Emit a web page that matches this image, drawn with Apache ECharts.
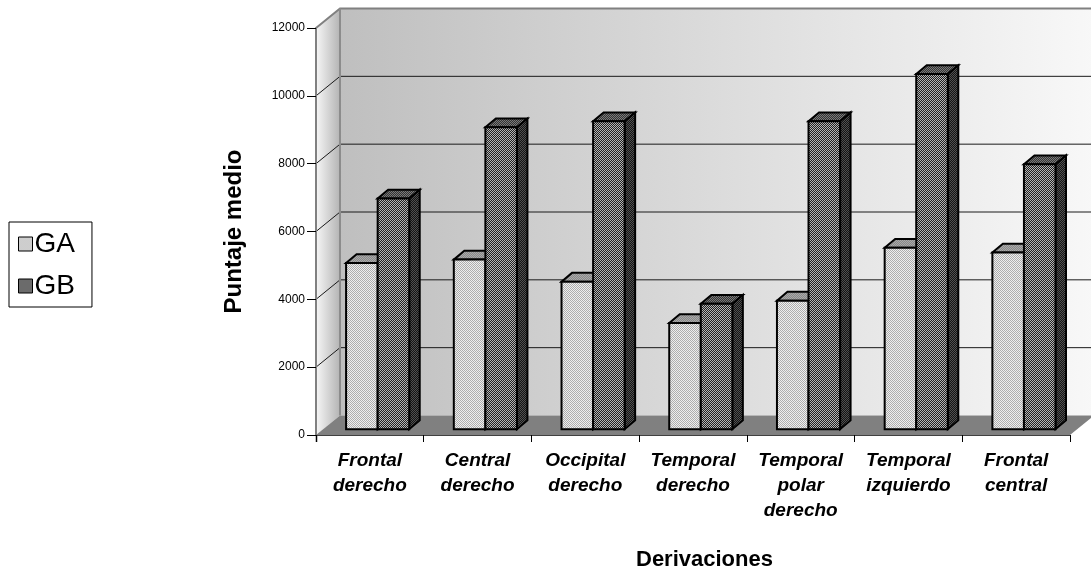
<!DOCTYPE html>
<html>
<head>
<meta charset="utf-8">
<script src="https://cdn.jsdelivr.net/npm/echarts@6/dist/echarts.min.js"></script>
<style>
  html, body { margin: 0; padding: 0; background: #ffffff; }
  #chart { width: 1091px; height: 579px; }
</style>
</head>
<body>
<div id="chart"></div>
<script>
// Mean score per EEG derivation, groups GA and GB
const categories = [
  'Frontal\nderecho',
  'Central\nderecho',
  'Occipital\nderecho',
  'Temporal\nderecho',
  'Temporal\npolar\nderecho',
  'Temporal\nizquierdo',
  'Frontal\ncentral'
];
const seriesNames = ['GA', 'GB'];
const valuesGA = [4900, 5000, 4350, 3130, 3790, 5350, 5210];
const valuesGB = [6800, 8900, 9080, 3700, 9080, 10470, 7810];
const yTicks = [0, 2000, 4000, 6000, 8000, 10000, 12000];

// 3D look: depth of the walls, plane of the bars, depth of each bar
const WALL_DEPTH = [24, -19.5];
const BAR_PLANE = [7, -5.8];
const BAR_DEPTH = [10.5, -8.8];
const BAR_RATIO = 0.293;
const PAIR_SHIFT = 0.8;

function checker(a, b, cell) {
  const c = document.createElement('canvas');
  c.width = cell * 2; c.height = cell * 2;
  const ctx = c.getContext('2d');
  ctx.fillStyle = a; ctx.fillRect(0, 0, cell * 2, cell * 2);
  ctx.fillStyle = b;
  ctx.fillRect(0, 0, cell, cell);
  ctx.fillRect(cell, cell, cell, cell);
  return { image: c, repeat: 'repeat' };
}

const fills = {
  GA: {
    front: checker('#eeeeee', '#adadad', 1),
    top: checker('#888888', '#aaaaaa', 1),
    side: checker('#6a6a6a', '#9a9a9a', 1)
  },
  GB: {
    front: checker('#222222', '#b4b4b4', 1),
    top: checker('#333333', '#7a7a7a', 1),
    side: checker('#141414', '#505050', 1)
  }
};

function barRenderer(name, slot) {
  const f = fills[name];
  return function (params, api) {
    const idx = api.value(0);
    const v = api.value(1);
    const c = api.coord([idx, v]);
    const base = api.coord([idx, 0]);
    const w = api.size([1, 0])[0] * BAR_RATIO;
    const xl = c[0] + BAR_PLANE[0] + PAIR_SHIFT + (slot - 1) * w;
    const yt = c[1] + BAR_PLANE[1];
    const yb = base[1] + BAR_PLANE[1];
    const dx = BAR_DEPTH[0], dy = BAR_DEPTH[1];
    const stroke = { stroke: '#000000', lineWidth: 2, lineJoin: 'miter' };
    return {
      type: 'group',
      children: [
        {
          type: 'polygon',
          shape: { points: [[xl, yt], [xl + w, yt], [xl + w + dx, yt + dy], [xl + dx, yt + dy]] },
          style: Object.assign({ fill: f.top }, stroke)
        },
        {
          type: 'polygon',
          shape: { points: [[xl + w, yt], [xl + w + dx, yt + dy], [xl + w + dx, yb + dy], [xl + w, yb]] },
          style: Object.assign({ fill: f.side }, stroke)
        },
        {
          type: 'rect',
          shape: { x: xl, y: yt, width: w, height: yb - yt },
          style: Object.assign({ fill: f.front }, stroke)
        }
      ]
    };
  };
}

// Back wall, side wall, floor and gridlines of the 3D frame
function frameRenderer(params, api) {
  const cs = params.coordSys;
  const x0 = cs.x, x1 = cs.x + cs.width;
  const y0 = api.coord([0, yTicks[0]])[1];
  const yTop = api.coord([0, yTicks[yTicks.length - 1]])[1];
  const dx = WALL_DEPTH[0], dy = WALL_DEPTH[1];
  const children = [];
  children.push({
    type: 'rect',
    shape: { x: x0 + dx, y: yTop + dy, width: x1 - x0, height: y0 - yTop },
    style: {
      fill: new echarts.graphic.LinearGradient(0, 0, 1, 0, [
        { offset: 0, color: '#bfbfbf' },
        { offset: 1, color: '#f8f8f8' }
      ])
    }
  });
  children.push({
    type: 'polygon',
    shape: { points: [[x0, y0], [x0, yTop], [x0 + dx, yTop + dy], [x0 + dx, y0 + dy]] },
    style: {
      fill: new echarts.graphic.LinearGradient(0, 0, 1, 0, [
        { offset: 0, color: '#f6f6f6' },
        { offset: 1, color: '#b4b4b4' }
      ])
    }
  });
  yTicks.forEach(function (t, i) {
    if (i === 0 || i === yTicks.length - 1) return;
    const y = api.coord([0, t])[1];
    children.push({
      type: 'polyline',
      shape: { points: [[x0, y], [x0 + dx, y + dy], [x1 + dx + 40, y + dy]] },
      style: { stroke: '#1a1a1a', lineWidth: 1, fill: null }
    });
  });
  children.push({
    type: 'polygon',
    shape: { points: [[x0, y0], [x1, y0], [x1 + dx, y0 + dy], [x0 + dx, y0 + dy]] },
    style: { fill: '#808080' }
  });
  // wall edges
  children.push({
    type: 'polyline',
    shape: { points: [[x0, yTop], [x0 + dx, yTop + dy], [x1 + dx + 40, yTop + dy]] },
    style: { stroke: '#808080', lineWidth: 2, fill: null }
  });
  children.push({
    type: 'line',
    shape: { x1: x0 + dx, y1: yTop + dy, x2: x0 + dx, y2: y0 + dy },
    style: { stroke: '#8c8c8c', lineWidth: 2 }
  });
  // axis line running below the floor
  children.push({
    type: 'line',
    shape: { x1: x0 + 0.5, y1: y0, x2: x0 + 0.5, y2: y0 + 7 },
    style: { stroke: '#808080', lineWidth: 2 }
  });
  return { type: 'group', children: children };
}

const chart = echarts.init(document.getElementById('chart'));
chart.setOption({
  animation: false,
  backgroundColor: '#ffffff',
  textStyle: { fontFamily: 'Liberation Sans, Arial, sans-serif' },
  grid: { left: 316, right: 21, top: 28, bottom: 144 },
  legend: {
    data: seriesNames.map(function (n) { return { name: n, icon: 'rect' }; }),
    orient: 'vertical',
    left: 9,
    top: 222,
    padding: [8, 17, 7, 9],
    itemGap: 14,
    itemWidth: 14,
    itemHeight: 14,
    itemStyle: { borderColor: '#000000', borderWidth: 1 },
    borderColor: '#000000',
    borderWidth: 1,
    textStyle: { fontSize: 28, color: '#000000', padding: [0, 0, 0, -3] },
    selectedMode: false
  },
  xAxis: {
    type: 'category',
    data: categories,
    z: 5,
    axisLine: { show: true, lineStyle: { color: '#404040', width: 1 } },
    axisTick: { show: true, length: 7, lineStyle: { color: '#000000' } },
    axisLabel: {
      interval: 0,
      margin: 13,
      color: '#000000',
      fontSize: 19,
      fontWeight: 'bold',
      fontStyle: 'italic',
      lineHeight: 25
    },
    splitLine: { show: false }
  },
  yAxis: {
    type: 'value',
    min: 0,
    max: 12000,
    interval: 2000,
    z: 5,
    name: 'Puntaje medio',
    nameLocation: 'middle',
    nameGap: 70,
    nameRotate: 90,
    nameTextStyle: { fontSize: 24, fontWeight: 'bold', color: '#000000' },
    axisLine: { show: true, lineStyle: { color: '#808080', width: 2 } },
    axisTick: { show: true, length: 9, lineStyle: { color: '#000000' } },
    axisLabel: {
      color: '#000000',
      fontSize: 12,
      margin: 11,
      formatter: function (v) { return String(v); }
    },
    splitLine: { show: false }
  },
  graphic: [{
    type: 'text',
    left: 636,
    top: 549,
    style: { text: 'Derivaciones', font: 'bold 22px "Liberation Sans", Arial, sans-serif', fill: '#000000' }
  }],
  series: [
    {
      name: 'frame',
      type: 'custom',
      z: 1,
      silent: true,
      data: [[0, 0]],
      renderItem: frameRenderer
    },
    {
      name: 'GA',
      type: 'custom',
      z: 2,
      itemStyle: { color: fills.GA.front },
      data: valuesGA.map(function (v, i) { return [i, v]; }),
      renderItem: barRenderer('GA', 0)
    },
    {
      name: 'GB',
      type: 'custom',
      z: 3,
      itemStyle: { color: fills.GB.front },
      data: valuesGB.map(function (v, i) { return [i, v]; }),
      renderItem: barRenderer('GB', 1)
    }
  ]
});
</script>
</body>
</html>
